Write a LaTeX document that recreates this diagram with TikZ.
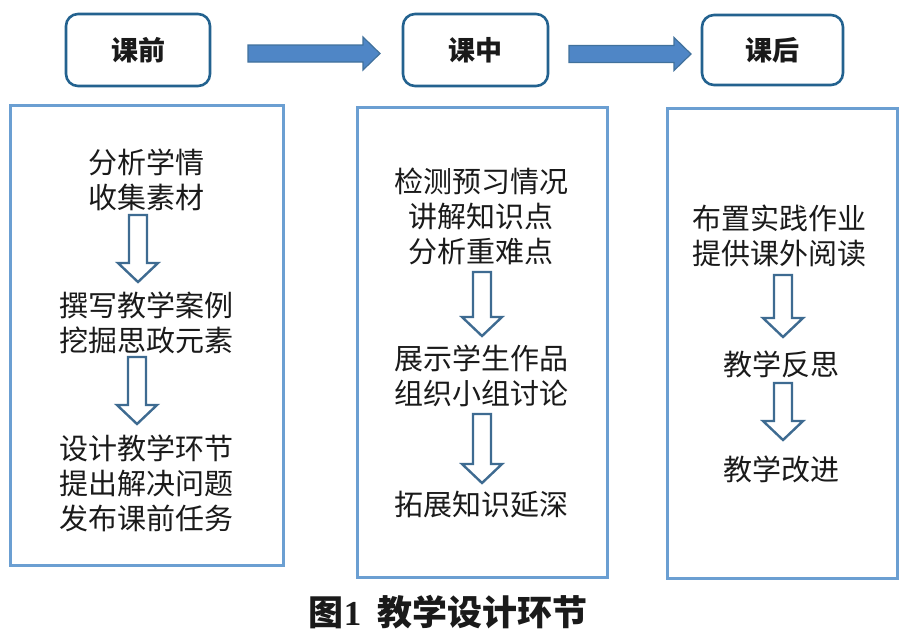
\documentclass[tikz,border=0pt]{standalone}
\usepackage{fontspec}
\setmainfont{Liberation Serif}
\newfontfamily\cjk{Noto Sans CJK SC}
\definecolor{bigborder}{HTML}{6B9FD2}
\definecolor{hdrborder}{HTML}{23628F}
\definecolor{arrowfill}{HTML}{4F86C6}
\definecolor{arrowdraw}{HTML}{41719C}
\definecolor{hollowdraw}{HTML}{3E6B91}
\definecolor{bodytext}{HTML}{1A1A1A}
\newcommand\hollowdown[4]{% name, x, ytop, ytip
  \coordinate (#1) at (#2,#3);
  \draw[hollowarrow] (#2-9,#3) -- (#2+9,#3) -- (#2+9,#4-19) -- (#2+20,#4-19) -- (#2,#4)
    -- (#2-20,#4-19) -- (#2-9,#4-19) -- cycle;}
\newcommand\blockright[4]{% name, xstart, y, xtip
  \coordinate (#1) at (#2,#3);
  \draw[blockarrow] (#2,#3-8.5) -- (#4-17,#3-8.5) -- (#4-17,#3-16.5) -- (#4,#3)
    -- (#4-17,#3+16.5) -- (#4-17,#3+8.5) -- (#2,#3+8.5) -- cycle;}
\begin{document}
\begin{tikzpicture}[x=1pt,y=-1pt,
  bigbox/.style={draw=bigborder, line width=3pt, fill=white, inner sep=0pt},
  hdrbox/.style={draw=hdrborder, line width=2.6pt, rounded corners=12pt, fill=white,
    inner sep=0pt, font=\fontsize{27}{30}\selectfont\cjk\bfseries, text=bodytext},
  bodytxt/.style={align=center, inner sep=0pt, text=bodytext,
    font=\fontsize{29}{35}\selectfont\cjk},
  hollowarrow/.style={draw=hollowdraw, line width=2.4pt, fill=white, line join=miter},
  blockarrow/.style={draw=arrowdraw, line width=1.2pt, fill=arrowfill, line join=miter}]
\useasboundingbox (0,0) rectangle (909,641);
\fill[white] (0,0) rectangle (909,641);

% header boxes
\node[hdrbox, minimum width=144pt, minimum height=72pt] (hdrA) at (138,50) {课前};
\node[hdrbox, minimum width=145pt, minimum height=72pt] (hdrB) at (475.5,50) {课中};
\node[hdrbox, minimum width=141pt, minimum height=70pt] (hdrC) at (772.5,50) {课后};

% top arrows
\blockright{arrAB}{248}{53.5}{380}
\blockright{arrBC}{569}{54}{691}

% big boxes
\node[bigbox, minimum width=273pt, minimum height=460pt] (boxA) at (146.5,335) {};
\node[bigbox, minimum width=250pt, minimum height=470pt] (boxB) at (482.5,342) {};
\node[bigbox, minimum width=230pt, minimum height=470pt] (boxC) at (782.5,343) {};

% left column
\node[bodytxt] (a1) at (146,179.5) {分析学情\\收集素材};
\node[bodytxt] (a2) at (146,322.5) {撰写教学案例\\挖掘思政元素};
\node[bodytxt] (a3) at (146,483) {设计教学环节\\提出解决问题\\发布课前任务};
\hollowdown{dA1}{138}{215}{282}
\hollowdown{dA2}{137}{357}{424}

% middle column
\node[bodytxt] (b1) at (481,216) {检测预习情况\\讲解知识点\\分析重难点};
\node[bodytxt] (b2) at (481,375.5) {展示学生作品\\组织小组讨论};
\node[bodytxt] (b3) at (481,505) {拓展知识延深};
\hollowdown{dB1}{482}{272}{336}
\hollowdown{dB2}{482}{414}{483}

% right column
\node[bodytxt] (c1) at (779,235.5) {布置实践作业\\提供课外阅读};
\node[bodytxt] (c2) at (781,364) {教学反思};
\node[bodytxt] (c3) at (781,469) {教学改进};
\hollowdown{dC1}{783}{275}{337}
\hollowdown{dC2}{783}{383}{440}

% caption
\node[inner sep=0pt, text=bodytext, font=\fontsize{35}{40}\selectfont] (cap) at (448,612)
  {{\cjk\bfseries 图}{\bfseries 1}\hspace{0.45em}{\cjk\bfseries 教学设计环节}};
\end{tikzpicture}
\end{document}
